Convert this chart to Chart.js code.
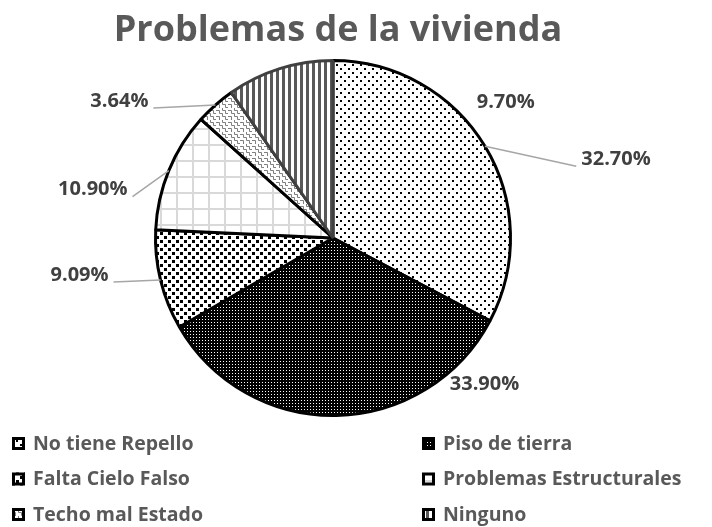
<!DOCTYPE html>
<html>
<head>
<meta charset="utf-8">
<script src="https://cdn.jsdelivr.net/npm/chart.js@4.4.1/dist/chart.umd.min.js"></script>
<style>
  html, body { margin: 0; padding: 0; background: #fff; }
  #wrap { width: 712px; height: 527px; }
</style>
</head>
<body>
<div id="wrap"><canvas id="pieChart" width="712" height="527"></canvas></div>
<script>
const chartTitle = "Problemas de la vivienda";
const categories = ["No tiene Repello", "Piso de tierra", "Falta Cielo Falso", "Problemas Estructurales", "Techo mal Estado", "Ninguno"];
const values = [32.70, 33.90, 9.09, 10.90, 3.64, 9.70];

const FONT = "'Open Sans', 'DejaVu Sans', sans-serif";

// small pattern tiles, one per slice
function makePattern(w, h, draw) {
    let c = document.createElement('canvas');
    c.width = w; c.height = h;
    let g = c.getContext('2d');
    g.fillStyle = '#fff';
    g.fillRect(0, 0, w, h);
    draw(g);
    return g.createPattern(c, 'repeat');
}

const patterns = [
    makePattern(8, 8, g => { // sparse dots
        g.fillStyle = '#000';
        g.fillRect(0, 0, 2, 2);
        g.fillRect(4, 4, 2, 2);
    }),
    makePattern(3, 3, g => { // dense dark dots
        g.fillStyle = '#000';
        g.fillRect(0, 0, 3, 3);
        g.fillStyle = '#fff';
        g.fillRect(1, 1, 1, 1);
    }),
    makePattern(8, 8, g => { // checker squares
        g.fillStyle = '#000';
        g.fillRect(0, 0, 3, 3);
        g.fillRect(4, 4, 3, 3);
    }),
    makePattern(16, 16, g => { // light grid
        g.fillStyle = '#d9d9d9';
        g.fillRect(0, 0, 16, 2);
        g.fillRect(0, 0, 2, 16);
    }),
    makePattern(12, 12, g => { // stepped waves
        g.strokeStyle = '#7f7f7f';
        g.lineWidth = 1;
        g.beginPath();
        g.moveTo(0, 2.5); g.lineTo(3.5, 2.5); g.lineTo(3.5, 5.5); g.lineTo(6.5, 5.5);
        g.lineTo(6.5, 8.5); g.lineTo(9.5, 8.5); g.lineTo(9.5, 11.5); g.lineTo(12, 11.5);
        g.moveTo(6.5, 0); g.lineTo(6.5, 2.5); g.lineTo(9.5, 2.5); g.lineTo(9.5, 5.5); g.lineTo(12, 5.5);
        g.moveTo(0, 8.5); g.lineTo(3.5, 8.5); g.lineTo(3.5, 12);
        g.stroke();
    }),
    makePattern(6, 6, g => { // vertical stripes
        g.fillStyle = '#595959';
        g.fillRect(0, 0, 3, 6);
    })
];
const borders = ['#000', '#000', '#000', '#000', '#000', '#404040'];

// where each percentage sits relative to the slice mid point on the rim
const labelOffsets = [[131, 13], [148, -31], [-81, -5], [-76, 19], [-96, -4], [226, 34]];
const leaderLines = [true, false, true, true, true, false];

const piePlugin = {
    id: 'excelLook',
    afterDraw(chart) {
        const ctx = chart.ctx;
        const meta = chart.getDatasetMeta(0);
        ctx.save();

        // title
        ctx.fillStyle = '#595959';
        ctx.font = "bold 36px " + FONT;
        ctx.textAlign = 'center';
        ctx.textBaseline = 'alphabetic';
        ctx.fillText(chartTitle, 338, 41);

        // data labels
        ctx.font = "bold 20px " + FONT;
        ctx.textBaseline = 'middle';
        meta.data.forEach((arc, i) => {
            const p = arc.getProps(['x', 'y', 'startAngle', 'endAngle', 'outerRadius'], true);
            const mid = (p.startAngle + p.endAngle) / 2;
            const ax = p.x + Math.cos(mid) * p.outerRadius;
            const ay = p.y + Math.sin(mid) * p.outerRadius;
            const tx = ax + labelOffsets[i][0];
            const ty = ay + labelOffsets[i][1];
            const txt = values[i].toFixed(2) + '%';
            const w = ctx.measureText(txt).width;
            if (leaderLines[i]) {
                const ex = tx > ax ? tx - w / 2 - 5 : tx + w / 2 + 5;
                const ey = ty + 7;
                ctx.strokeStyle = '#a6a6a6';
                ctx.lineWidth = 1.5;
                ctx.beginPath();
                ctx.moveTo(ax, ay);
                ctx.lineTo(ex, ey);
                ctx.stroke();
            }
            ctx.fillStyle = '#404040';
            ctx.textAlign = 'center';
            ctx.fillText(txt, tx, ty);
        });

        // legend in two columns
        ctx.font = "bold 19.5px " + FONT;
        ctx.textAlign = 'left';
        categories.forEach((name, i) => {
            const col = i % 2, row = Math.floor(i / 2);
            const bx = col === 0 ? 12 : 422;
            const by = 437 + row * 35.5;
            ctx.fillStyle = patterns[i];
            ctx.fillRect(bx, by, 13, 13);
            ctx.strokeStyle = '#000';
            ctx.lineWidth = 3;
            ctx.strokeRect(bx + 1.5, by + 1.5, 10, 10);
            ctx.fillStyle = '#595959';
            ctx.fillText(name, bx + 21, by + 7);
        });
        ctx.restore();
    }
};

new Chart(document.getElementById('pieChart'), {
    type: 'pie',
    data: {
        labels: categories,
        datasets: [{
            data: values,
            backgroundColor: patterns,
            borderColor: borders,
            borderWidth: 3
        }]
    },
    options: {
        responsive: false,
        animation: false,
        layout: { padding: { top: 59, bottom: 110, left: 0, right: 46 } },
        plugins: {
            legend: { display: false },
            title: { display: false },
            tooltip: { enabled: false }
        }
    },
    plugins: [piePlugin]
});
</script>
</body>
</html>
